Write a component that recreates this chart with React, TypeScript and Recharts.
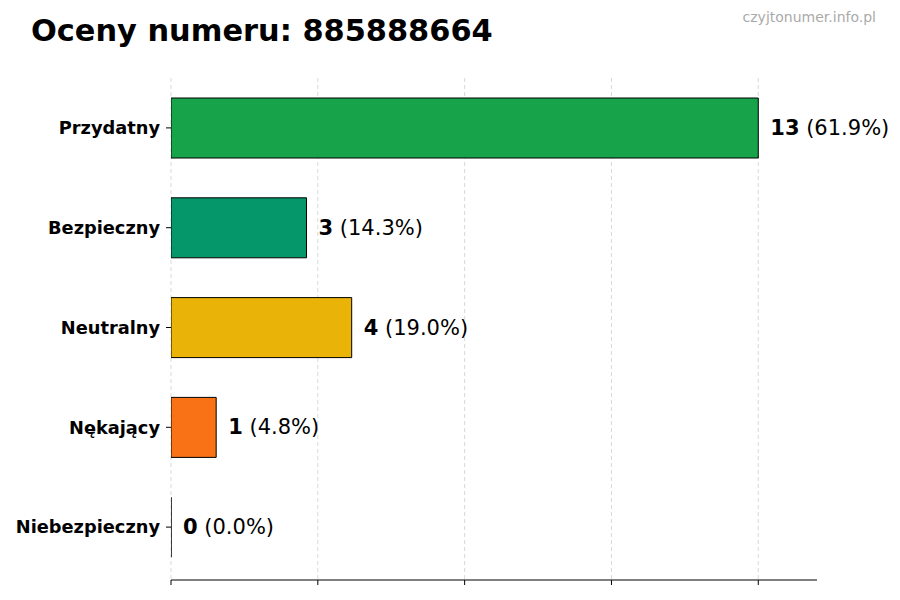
import { BarChart, Bar, XAxis, YAxis, CartesianGrid, Cell, LabelList } from "recharts";

const categories = ["Przydatny", "Bezpieczny", "Neutralny", "Nękający", "Niebezpieczny"];
const counts = [13, 3, 4, 1, 0];
const percents = [61.9, 14.3, 19.0, 4.8, 0.0];
const colors = ["#16a34a", "#059669", "#eab308", "#f97316", "#dc2626"];
const xTicks = [0, 3.25, 6.5, 9.75, 13];

const data = categories.map((name, i) => ({ name, count: counts[i], pct: percents[i] }));

const FONT = "'DejaVu Sans', sans-serif";

// zero-width bars still get their black edge, like the reference
const BarShape = (props: any) => {
  const { x, y, width, height, fill } = props;
  return (
    <path
      d={`M${x},${y}h${width}v${height}h${-width}Z`}
      fill={fill}
      stroke="#000"
      strokeWidth={1}
    />
  );
};

const ValueLabel = (props: any) => {
  const { x, y, width, height, index } = props;
  const d = data[index];
  return (
    <text
      x={x + width + 12}
      y={y + height / 2}
      dominantBaseline="central"
      fontFamily={FONT}
      fontSize={21}
      fill="#000"
    >
      <tspan fontWeight="bold">{d.count}</tspan>
      <tspan>{` (${d.pct.toFixed(1)}%)`}</tspan>
    </text>
  );
};

export default function App() {
  return (
    <div style={{ position: "absolute", left: 0, top: 0, width: 900, height: 600, background: "#fff" }}>
      <BarChart
        width={900}
        height={600}
        data={data}
        layout="vertical"
        margin={{ top: 78, right: 83, bottom: 0, left: 0 }}
        barSize={60}
      >
        <text x={31} y={41} fontFamily={FONT} fontWeight="bold" fontSize={30.4} fill="#000">
          Oceny numeru: 885888664
        </text>
        <text x={876} y={22} textAnchor="end" fontFamily={FONT} fontSize={14} fill="#aaa">
          czyjtonumer.info.pl
        </text>
        <CartesianGrid
          horizontal={false}
          stroke="#d9d9d9"
          strokeDasharray="4 3"
          verticalValues={xTicks}
        />
        <XAxis
          type="number"
          domain={[0, 14.3]}
          ticks={xTicks}
          tickFormatter={() => ""}
          tickSize={5}
          height={20}
          axisLine={{ stroke: "#000" }}
          tickLine={{ stroke: "#000" }}
          allowDataOverflow
        />
        <YAxis
          type="category"
          dataKey="name"
          width={171}
          axisLine={false}
          tickLine={{ stroke: "#000" }}
          tickSize={5}
          tickMargin={6}
          padding={{ top: 0, bottom: 3 }}
          tick={{ fontFamily: FONT, fontWeight: "bold", fontSize: 17.8, fill: "#000" }}
        />
        <Bar dataKey="count" isAnimationActive={false} shape={<BarShape />}>
          {data.map((d, i) => (
            <Cell key={d.name} fill={colors[i]} />
          ))}
          <LabelList dataKey="count" content={<ValueLabel />} />
        </Bar>
      </BarChart>
    </div>
  );
}
